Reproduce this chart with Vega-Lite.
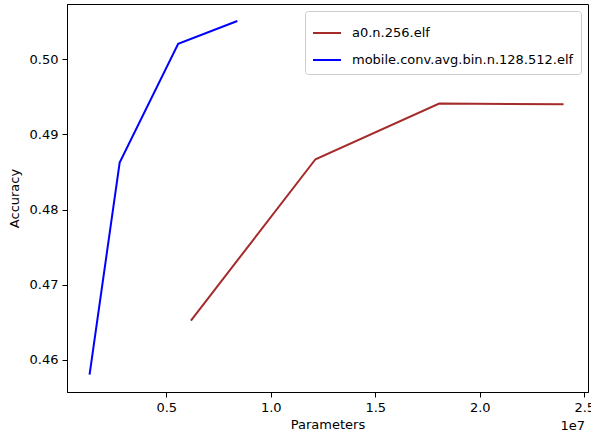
{
  "$schema": "https://vega.github.io/schema/vega-lite/v6.json",
  "autosize": {"type": "none"},
  "padding": {"left": 67, "top": 4, "right": 3, "bottom": 45},
  "width": 521,
  "height": 388,
  "background": "white",
  "title": {"text": "1e7", "orient": "bottom", "anchor": "end", "frame": "group", "dx": -3, "fontSize": 13, "fontWeight": "normal", "font": "DejaVu Sans", "color": "black", "offset": -11},
  "data": {"values": [
    {"series": "mobile.conv.avg.bin.n.128.512.elf", "params": 1330000, "acc": 0.45806},
    {"series": "mobile.conv.avg.bin.n.128.512.elf", "params": 2770000, "acc": 0.48625},
    {"series": "mobile.conv.avg.bin.n.128.512.elf", "params": 5570000, "acc": 0.50207},
    {"series": "mobile.conv.avg.bin.n.128.512.elf", "params": 8400000, "acc": 0.50509},
    {"series": "a0.n.256.elf", "params": 6180000, "acc": 0.46524},
    {"series": "a0.n.256.elf", "params": 12140000, "acc": 0.4867},
    {"series": "a0.n.256.elf", "params": 18060000, "acc": 0.4941},
    {"series": "a0.n.256.elf", "params": 24010000, "acc": 0.49402}
  ]},
  "mark": {"type": "line", "strokeWidth": 2},
  "encoding": {
    "x": {"field": "params", "type": "quantitative", "title": "Parameters",
      "scale": {"domain": [250000, 25180000], "nice": false, "zero": false},
      "axis": {"values": [5000000, 10000000, 15000000, 20000000, 25000000], "labelExpr": "format(datum.value/1e7, '.1f')", "grid": false}},
    "y": {"field": "acc", "type": "quantitative", "title": "Accuracy",
      "scale": {"domain": [0.45574, 0.50735], "nice": false, "zero": false},
      "axis": {"values": [0.46, 0.47, 0.48, 0.49, 0.5], "format": ".2f", "grid": false, "titlePadding": 8}},
    "color": {"field": "series", "type": "nominal",
      "scale": {"domain": ["a0.n.256.elf", "mobile.conv.avg.bin.n.128.512.elf"], "range": ["#a52a2a", "#0000ff"]},
      "legend": {"title": null, "orient": "top-right", "offset": 7, "symbolType": "stroke", "symbolSize": 784, "symbolStrokeWidth": 2,
        "labelFontSize": 13, "labelFont": "DejaVu Sans", "labelColor": "black", "labelLimit": 0, "fillColor": "white", "strokeColor": "#cccccc", "cornerRadius": 3, "padding": 7, "rowPadding": 5, "labelOffset": 10}}
  },
  "config": {
    "view": {"stroke": "black", "strokeWidth": 1},
    "axis": {"domainColor": "black", "tickColor": "black", "tickSize": 5, "labelFont": "DejaVu Sans", "labelFontSize": 13, "labelColor": "black", "titleFont": "DejaVu Sans", "titleFontSize": 13, "titleFontWeight": "normal", "titleColor": "black", "labelPadding": 4}
  }
}
